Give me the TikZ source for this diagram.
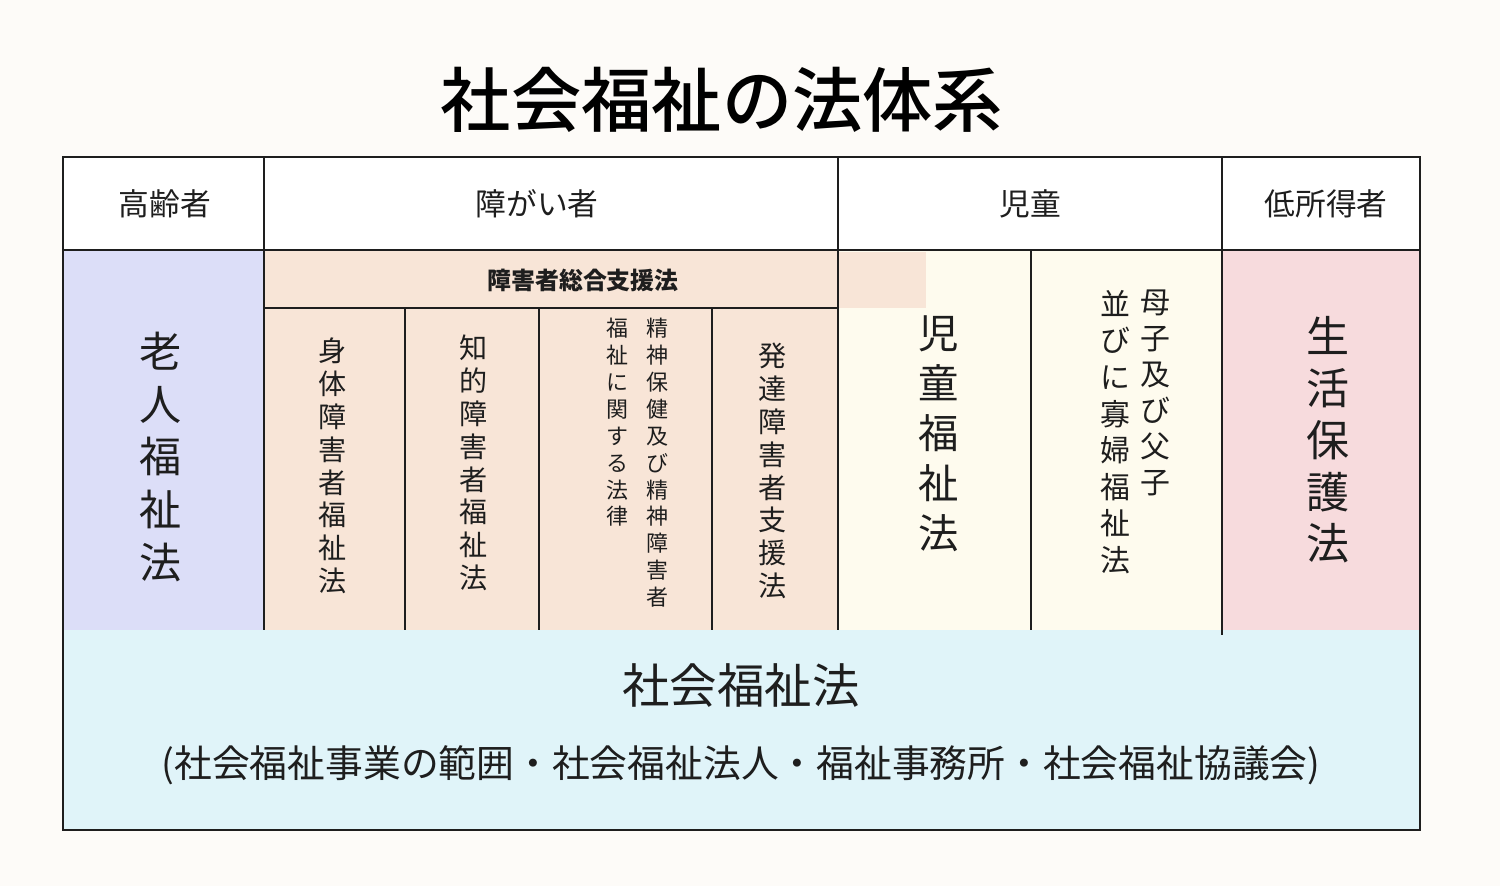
\documentclass[tikz,border=0pt]{standalone}
\usepackage{fontspec}
\setmainfont{Noto Sans CJK JP}
\newfontfamily\midashi{Noto Sans CJK JP Medium}
\usepackage{xcolor}
\definecolor{bgpaper}{RGB}{253,251,248}
\definecolor{rojin}{RGB}{220,222,248}
\definecolor{shogai}{RGB}{248,229,215}
\definecolor{jido}{RGB}{254,251,238}
\definecolor{seiho}{RGB}{247,219,221}
\definecolor{shakai}{RGB}{224,244,249}
\definecolor{waku}{RGB}{30,30,30}

\begin{document}
\begin{tikzpicture}[x=0.02cm,y=-0.02cm,
    cell/.style={draw=waku, line width=0.8pt},
    head/.style={font=\fontsize{17.5}{20}\selectfont, text=waku},
    tate/.style={align=center, inner sep=0pt, text=waku}]
        \useasboundingbox[fill=bgpaper] (0,0) rectangle (1500,886);

        % Заливка областей
        \fill[white]  (63,157)  rectangle (1420,250);
        \fill[shakai] (63,630)  rectangle (1420,830);
        \fill[rojin]  (63,250)  rectangle (264,630);
        \fill[shogai] (264,250) rectangle (838,630);
        \fill[jido]   (838,250) rectangle (1222,630);
        \fill[seiho]  (1222,250) rectangle (1420,630);
        \fill[shogai] (838,252) rectangle (926,308);

        % Линии таблицы
        \draw[cell] (63,157) rectangle (1420,830);
        \draw[cell] (63,250) -- (1420,250);
        \draw[cell] (264,308) -- (838,308);
        \foreach \x in {264,838} \draw[cell] (\x,157) -- (\x,630);
        \draw[cell] (1222,157) -- (1222,635);
        \foreach \x in {405,539,712} \draw[cell] (\x,308) -- (\x,630);
        \draw[cell] (1031,250) -- (1031,630);

        % Заголовок
        \node[font=\fontsize{40}{44}\selectfont\midashi, text=black] (titel) at (722,100) {社会福祉の法体系};

        % Шапка
        \node[head] (koreisha) at (165,204) {高齢者};
        \node[head] (shogaisha) at (537,204) {障がい者};
        \node[head] (jidou) at (1030,204) {児童};
        \node[head] (teishotoku) at (1326,204) {低所得者};

        \node[font=\fontsize{13.6}{16}\selectfont\bfseries, text=waku] (sogo) at (583,280) {障害者総合支援法};

        % Вертикальные подписи
        \node[tate, font=\fontsize{24}{30}\selectfont] (rojinho) at (161,457)
            {老\\人\\福\\祉\\法};
        \node[tate, font=\fontsize{16}{18.7}\selectfont] (shintai) at (333,466)
            {身\\体\\障\\害\\者\\福\\祉\\法};
        \node[tate, font=\fontsize{16}{18.7}\selectfont] (chiteki) at (474,463)
            {知\\的\\障\\害\\者\\福\\祉\\法};
        \node[tate, font=\fontsize{12.5}{15.3}\selectfont, anchor=north] (seishin) at (657,318)
            {精\\神\\保\\健\\及\\び\\精\\神\\障\\害\\者};
        \node[tate, font=\fontsize{12.5}{15.3}\selectfont, anchor=north] (seishin2) at (617,318)
            {福\\祉\\に\\関\\す\\る\\法\\律};
        \node[tate, font=\fontsize{16}{18.7}\selectfont] (hattatsu) at (773,471)
            {発\\達\\障\\害\\者\\支\\援\\法};
        \node[tate, font=\fontsize{23}{28.5}\selectfont] (jidoho) at (939,434)
            {児\\童\\福\\祉\\法};
        \node[tate, font=\fontsize{17}{20.4}\selectfont, anchor=north] (boshi) at (1155,290)
            {母\\子\\及\\び\\父\\子};
        \node[tate, font=\fontsize{17}{20.8}\selectfont, anchor=north] (kafu) at (1115,290)
            {並\\び\\に\\寡\\婦\\福\\祉\\法};
        \node[tate, font=\fontsize{24.5}{29.5}\selectfont] (seikatsu) at (1328,440)
            {生\\活\\保\\護\\法};

        % Нижняя строка
        \node[font=\fontsize{27}{30}\selectfont, text=waku] (shakaiho) at (741,686) {社会福祉法};
        \node[font=\fontsize{21.5}{24}\selectfont, text=waku] (naiyo) at (741,765)
            {(社会福祉事業の範囲・社会福祉法人・福祉事務所・社会福祉協議会)};
\end{tikzpicture}
\end{document}
